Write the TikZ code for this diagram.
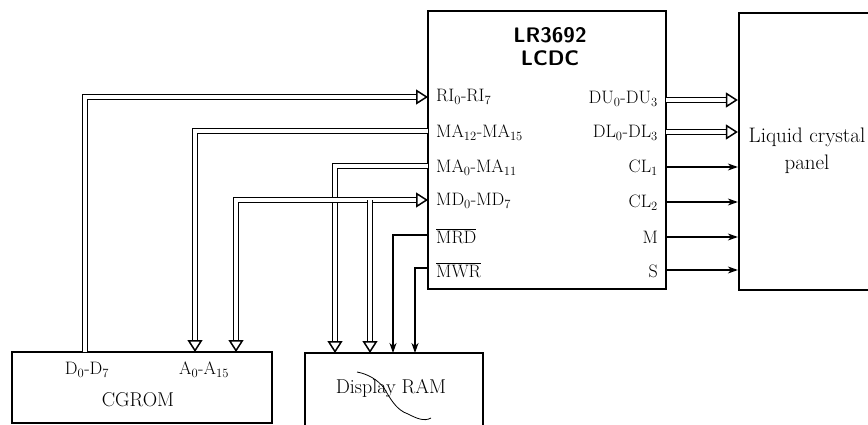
\documentclass[tikz,border=0pt]{standalone}
\usepackage{fontspec}
\usepackage{tikz}
\usetikzlibrary{arrows.meta}
\newcommand{\sub}[1]{\textsubscript{#1}}
\tikzset{
  blk/.style={draw, line width=2.2pt, fill=white, inner sep=0pt},
  pinl/.style={anchor=west, inner sep=0pt},
  pinr/.style={anchor=east, inner sep=0pt},
  bus/.style={draw, line width=1.4pt, double, double distance=3.2pt},
  bustip/.style={Triangle[open,length=12pt,width=15pt,line width=1.5pt]},
  busto/.style={bus, -{Triangle[open,length=12pt,width=15pt,line width=1.5pt]}},
  busboth/.style={bus, {Triangle[open,length=12pt,width=15pt,line width=1.5pt]}-{Triangle[open,length=12pt,width=15pt,line width=1.5pt]}},
  sig/.style={draw, line width=1.3pt},
  sigto/.style={sig, -{Stealth[length=10pt,width=7pt,inset=3pt]}},
  ttl/.style={font=\sffamily\bfseries\fontsize{21}{24}\selectfont, inner sep=0pt},
  bigl/.style={font=\fontsize{20}{23}\selectfont, inner sep=0pt},
}

\begin{document}
\begin{tikzpicture}[x=1pt,y=-1pt, every node/.append style={font=\fontsize{18}{21}\selectfont}]
\useasboundingbox (0,0) rectangle (868,425);
% blocks
\node[blk, minimum width=238pt, minimum height=278pt] (lcdc) at (547,150) {};
\node[blk, minimum width=170pt, minimum height=277pt] (lcp) at (824,151.5) {};
\node[blk, minimum width=260pt, minimum height=71pt] (cgrom) at (142,387.5) {};
\node[blk, minimum width=178pt, minimum height=79pt] (ram) at (394,392.5) {};
% titles
\node[ttl] (t1) at (550,35) {LR3692};
\node[ttl] (t2) at (550,58) {LCDC};
\node[bigl, align=center, font=\fontsize{21}{27}\selectfont] (lcpt) at (807,151) {Liquid crystal\\panel};
\node[bigl] (cgt) at (138,400) {CGROM};
\node[bigl] (ramt) at (391,388) {Display RAM};
% pin labels
\node[pinl] (lri) at (436,97) {RI\sub{0}-RI\sub{7}};
\node[pinl] (lma12) at (436,133) {MA\sub{12}-MA\sub{15}};
\node[pinl] (lma0) at (436,168) {MA\sub{0}-MA\sub{11}};
\node[pinl] (lmd) at (436,201) {MD\sub{0}-MD\sub{7}};
\node[pinl] (lmrd) at (436,236) {$\overline{\mbox{MRD}}$};
\node[pinl] (lmwr) at (436,270) {$\overline{\mbox{MWR}}$};
\node[pinr] (ldu) at (658,99) {DU\sub{0}-DU\sub{3}};
\node[pinr] (ldl) at (658,133) {DL\sub{0}-DL\sub{3}};
\node[pinr] (lcl1) at (658,168) {CL\sub{1}};
\node[pinr] (lcl2) at (658,203) {CL\sub{2}};
\node[pinr] (lm) at (658,237) {M};
\node[pinr] (ls) at (658,271) {S};
\node[inner sep=0pt] (ld) at (87,370) {D\sub{0}-D\sub{7}};
\node[inner sep=0pt] (la) at (204,370) {A\sub{0}-A\sub{15}};
% pins
\coordinate (pri) at (428,97);
\coordinate (pma12) at (428,131);
\coordinate (pma0) at (428,166);
\coordinate (pmd) at (428,200);
\coordinate (pmrd) at (428,235);
\coordinate (pmwr) at (428,268);
\coordinate (pdu) at (666,100);
\coordinate (pdl) at (666,132);
\coordinate (pcl1) at (666,167);
\coordinate (pcl2) at (666,202);
\coordinate (pm) at (666,237);
\coordinate (ps) at (666,270);
\coordinate (cd) at (85,352);
\coordinate (ca) at (195,352);
\coordinate (cmd) at (236,352);
\coordinate (rma) at (335,353);
\coordinate (rmd) at (370,353);
\coordinate (jmd) at (370,200);
\coordinate (rrd) at (393,353);
\coordinate (rwr) at (415,353);
% connectors
\draw[busto] (cd) |- (pri);
\draw[busto] (pma12) -| (ca);
\draw[busto] (pma0) -| (rma);
\draw[busboth] (cmd) |- (pmd);
\draw[busto] (jmd) -- (rmd);
\draw[sigto] (pmrd) -| (rrd);
\draw[sigto] (pmwr) -| (rwr);
\draw[busto] (pdu) -- (pdu -| lcp.west);
\draw[busto] (pdl) -- (pdl -| lcp.west);
\draw[sigto] (pcl1) -- (pcl1 -| lcp.west);
\draw[sigto] (pcl2) -- (pcl2 -| lcp.west);
\draw[sigto] (pm) -- (pm -| lcp.west);
\draw[sigto] (ps) -- (ps -| lcp.west);
% stray hair over the RAM label
\draw[line width=0.8pt] (357,372) .. controls (368,374) and (378,380) .. (384,388)
  .. controls (390,398) and (396,410) .. (408,414) .. controls (416,418) and (424,422) .. (431,418);
\end{tikzpicture}
\end{document}
